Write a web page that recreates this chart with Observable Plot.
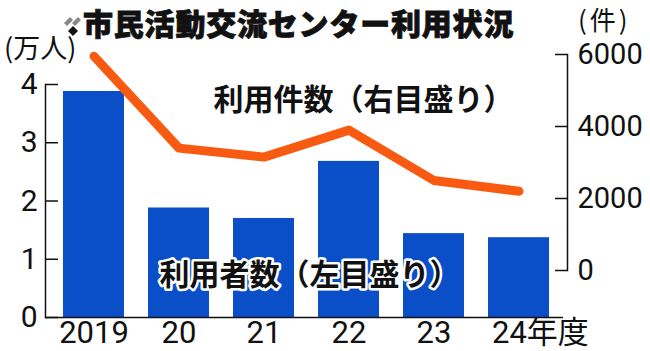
<!DOCTYPE html>
<html><head><meta charset="utf-8">
<script src="https://cdn.jsdelivr.net/npm/d3@7"></script>
<script src="https://cdn.jsdelivr.net/npm/@observablehq/plot@0.6"></script>
<style>
body{margin:0;background:#fff;}
#wrap{position:relative;width:650px;height:351px;overflow:hidden;font-family:"Noto Sans CJK JP",sans-serif;background:#fff;}
#wrap svg{position:absolute;left:0;top:0;background:transparent;}
.lbl{position:absolute;white-space:nowrap;line-height:normal;color:#111;}
</style></head><body>
<div id="wrap"></div>
<script>
// ---- data ----
const years = ["2019", "2020", "2021", "2022", "2023", "2024"];
const xLabels = ["2019", "20", "21", "22", "23", "24年度"];
const users = [3.88, 1.88, 1.70, 2.68, 1.44, 1.37];      // 利用者数（万人）
const cases = [5950, 3400, 3150, 3900, 2500, 2200];      // 利用件数（件）
const leftTicks = [0, 1, 2, 3, 4];
const rightTicks = [0, 2000, 4000, 6000];
const titleText = "市民活動交流センター利用状況";
const leftUnit = "(万人)";
const rightUnit = "(件)";
const usersLabel = "利用者数（左目盛り）";
const casesLabel = "利用件数（右目盛り）";

const rows = years.map((y, i) => ({year: y, label: xLabels[i], users: users[i], cases: cases[i]}));

const W = 650, H = 351;
const xScale = {type: "band", domain: years, range: [45, 563], paddingInner: 0.284, paddingOuter: 0.18, align: 0.55};
const numFont = "Roboto, 'Noto Sans CJK JP', sans-serif";
const jpFont = "'Noto Sans CJK JP', sans-serif";

// left layer: bars + left axis + x labels
const L = {left: 45, right: 87, top: 84, bottom: 34};
const plot1 = Plot.plot({
  width: W, height: H,
  marginLeft: L.left, marginRight: L.right, marginTop: L.top, marginBottom: L.bottom,
  style: {fontFamily: numFont, background: "transparent", color: "#111", overflow: "visible"},
  x: {...xScale, axis: null},
  y: {domain: [0, 4]},
  marks: [
    Plot.barY(rows, {x: "year", y: "users", fill: "#0a4fc8"}),
    Plot.ruleY([0], {stroke: "#111", strokeWidth: 1.5}),
    Plot.frame({anchor: "left", stroke: "#111", strokeWidth: 1.5}),
    Plot.tickY(leftTicks, {y: d => d, insetRight: (W - L.left - L.right) - 13, stroke: "#111", strokeWidth: 1.5}),
    Plot.axisY({anchor: "left", ticks: leftTicks, tickSize: 0, tickPadding: 8, tickFormat: d => String(d), label: null, fontSize: 30, fill: "#111", fontFamily: numFont}),
    Plot.text(rows.slice(0, 5), {x: "year", text: "label", frameAnchor: "bottom", dy: 16, fontSize: 31, fill: "#111", fontFamily: numFont, lineAnchor: "middle"}),
    Plot.text(rows.slice(5), {x: "year", text: "label", frameAnchor: "bottom", dy: 16, dx: -27, textAnchor: "start", fontSize: 31, fill: "#111", fontFamily: numFont, lineAnchor: "middle"})
  ]
});

// right layer: line + right axis + annotations
const R = {left: 45, right: 83, top: 54, bottom: 81};
const plot2 = Plot.plot({
  width: W, height: H,
  marginLeft: R.left, marginRight: R.right, marginTop: R.top, marginBottom: R.bottom,
  style: {fontFamily: numFont, background: "transparent", color: "#111", overflow: "visible"},
  x: {...xScale, axis: null},
  y: {domain: [0, 6000]},
  marks: [
    Plot.line(rows, {x: "year", y: "cases", stroke: "#f95a12", strokeWidth: 9, strokeLinecap: "round", strokeLinejoin: "round"}),
    Plot.frame({anchor: "right", stroke: "#111", strokeWidth: 1.5}),
    Plot.tickY(rightTicks, {y: d => d, insetLeft: (W - R.left - R.right) - 12, stroke: "#111", strokeWidth: 1.5}),
    Plot.axisY({anchor: "right", ticks: rightTicks, tickSize: 0, tickPadding: 10, tickFormat: d => String(d), label: null, fontSize: 29, fill: "#111", fontFamily: numFont}),
    Plot.text([casesLabel], {text: d => d, frameAnchor: "top-left", dx: 168, dy: 46, textAnchor: "start", lineAnchor: "middle", fontSize: 30, fontWeight: "bold", fill: "#111", fontFamily: jpFont}),
    Plot.text([usersLabel], {text: d => d, frameAnchor: "top-left", dx: 114, dy: 221, textAnchor: "start", lineAnchor: "middle", fontSize: 30, fontWeight: "bold", fill: "#111", stroke: "#fff", strokeWidth: 5, fontFamily: jpFont})
  ]
});

const wrap = document.getElementById("wrap");
wrap.appendChild(plot1);
wrap.appendChild(plot2);

function addLabel(html, css) {
  const d = document.createElement("div");
  d.className = "lbl";
  d.innerHTML = html;
  Object.assign(d.style, css);
  wrap.appendChild(d);
  return d;
}
addLabel('<svg width="22" height="28" viewBox="0 0 22 28" style="display:block"><polygon points="2,13 8,7 11,10 5,16" fill="#888"/><polygon points="10,13 16,7 19,10 13,16" fill="#888"/><polygon points="11,16 16,21 11,26 6,21" fill="#111"/></svg>', {left: "62px", top: "10px", lineHeight: "0"});
addLabel(titleText, {left: "83px", top: "0px", fontSize: "30px", fontWeight: "900", fontFamily: jpFont, color: "#111", webkitTextStroke: "0.8px #111", letterSpacing: "0.8px"});
addLabel(rightUnit, {left: "578px", top: "0px", fontSize: "26px", fontFamily: jpFont, letterSpacing: "3px"});
addLabel(leftUnit, {left: "4px", top: "27px", fontSize: "27px", fontFamily: jpFont});
</script>
</body></html>
